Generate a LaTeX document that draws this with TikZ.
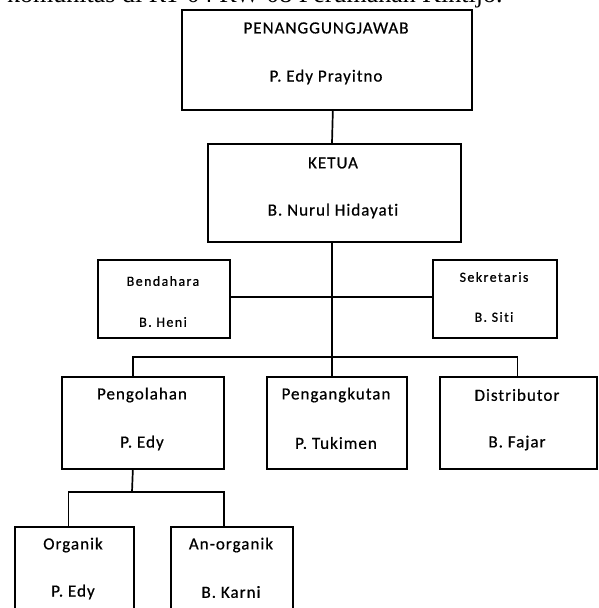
\documentclass[tikz,border=0pt]{standalone}
\usepackage{fontspec}
\setmainfont{Carlito}
\newfontfamily\boxfont[LetterSpace=6,Ligatures=NoCommon,FakeBold=0.6]{Carlito}
\newfontfamily\smallboxfont[LetterSpace=10,Ligatures=NoCommon,FakeBold=0.6]{Carlito}
\newfontfamily\serifhead{Liberation Serif}
\begin{document}
\begin{tikzpicture}[x=1pt,y=-1pt,
  box/.style={draw=black,line width=1.7pt,rectangle,inner sep=0pt,anchor=north west},
  big/.style={font=\boxfont\fontsize{17}{19}\selectfont,inner sep=0pt},
  small/.style={font=\smallboxfont\fontsize{14}{16}\selectfont,inner sep=0pt},
  link/.style={draw=black,line width=1.7pt}]
\useasboundingbox (0,0) rectangle (598,608);

% cut-off caption line at the very top
\node[anchor=base west,inner sep=0pt,font=\serifhead\fontsize{26}{28}\selectfont] (cap) at (7,2) {komunitas di RT 04 RW 08 Perumahan Kintijo.};

% boxes
\node[box,minimum width=290pt,minimum height=100pt] (pj) at (181,9) {};
\node[box,minimum width=253pt,minimum height=98pt] (ketua) at (207,143) {};
\node[box,minimum width=132pt,minimum height=78pt] (bend) at (97,259) {};
\node[box,minimum width=124pt,minimum height=78pt] (sekr) at (432,259) {};
\node[box,minimum width=162pt,minimum height=92pt] (peng) at (61,376) {};
\node[box,minimum width=140pt,minimum height=92pt] (angk) at (266,376) {};
\node[box,minimum width=157pt,minimum height=92pt] (dist) at (439,376) {};
\node[box,minimum width=119pt,minimum height=100pt] (org) at (14,526) {};
\node[box,minimum width=122pt,minimum height=100pt] (anorg) at (170,526) {};

% texts
\node[big] (t1a) at (326,28) {PENANGGUNGJAWAB};
\node[big] (t1b) at (326,77) {P. Edy Prayitno};
\node[big] (t2a) at (333,163) {KETUA};
\node[big] (t2b) at (333,211) {B. Nurul Hidayati};
\node[small] (t3a) at (163,281) {Bendahara};
\node[small] (t3b) at (163,322) {B. Heni};
\node[small] (t4a) at (494,277) {Sekretaris};
\node[small] (t4b) at (494,317) {B. Siti};
\node[big] (t5a) at (142,395) {Pengolahan};
\node[big] (t5b) at (142,443) {P. Edy};
\node[big] (t6a) at (336,395) {Pengangkutan};
\node[big] (t6b) at (336,443) {P. Tukimen};
\node[big] (t7a) at (517,395) {Distributor};
\node[big] (t7b) at (517,443) {B. Fajar};
\node[big] (t8a) at (73,545) {Organik};
\node[big] (t8b) at (73,592) {P. Edy};
\node[big] (t9a) at (231,545) {An-organik};
\node[big] (t9b) at (231,592) {B. Karni};

% junction coordinates
\coordinate (jA) at (332,297);
\coordinate (jB) at (332,357);
\coordinate (jC) at (132,492);

% connectors
\draw[link] ([xshift=6pt]pj.south) -- (ketua.north -| jA);
\draw[link] (ketua.south -| jA) -- (jB);
\draw[link] (bend.east |- jA) -- (sekr.west |- jA);
\draw[link] ([xshift=-10pt]peng.north) -- ([xshift=-10pt]peng.north |- jB) -- ([xshift=-1pt]dist.north |- jB) -- ([xshift=-1pt]dist.north);
\draw[link] (jB) -- (angk.north -| jB);
\draw[link] ([xshift=-10pt]peng.south) -- (jC);
\draw[link] ([xshift=-6pt]org.north) -- ([xshift=-6pt]org.north |- jC) -- ([xshift=-8pt]anorg.north |- jC) -- ([xshift=-8pt]anorg.north);
\end{tikzpicture}
\end{document}
